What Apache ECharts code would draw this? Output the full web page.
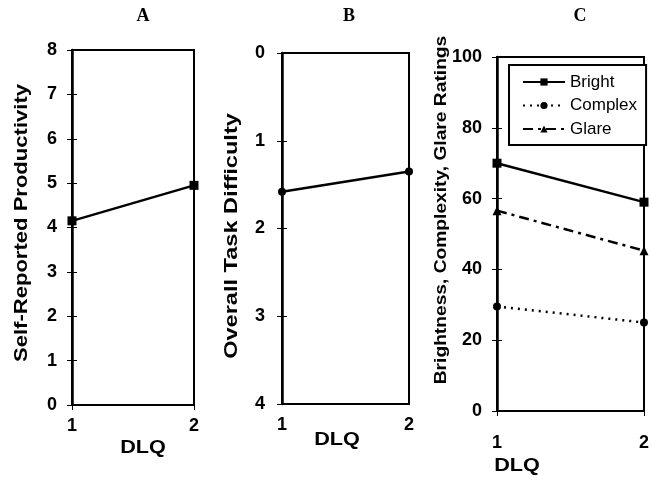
<!DOCTYPE html>
<html>
<head>
<meta charset="utf-8">
<script src="https://cdn.jsdelivr.net/npm/echarts@6/dist/echarts.min.js"></script>
<style>
  html, body { margin: 0; padding: 0; background: #fff; }
  #chart { width: 652px; height: 483px; }
</style>
</head>
<body>
<div id="chart"></div>
<script>
// DLQ levels shared by all three panels
const dlq = [1, 2];

// Panel A: self-reported productivity
const productivity = [4.15, 4.95];
const productivityTicks = { min: 0, max: 8, interval: 1 };

// Panel B: overall task difficulty (axis runs downward)
const difficulty = [1.58, 1.35];
const difficultyTicks = { min: 0, max: 4, interval: 1 };

// Panel C: ratings
const ratingNames = ['Bright', 'Complex', 'Glare'];
const bright = [70, 59];
const complexity = [29.5, 25];
const glare = [56.6, 45.3];
const ratingTicks = { min: 0, max: 100, interval: 20 };

const pairs = vals => dlq.map((d, i) => [d, vals[i]]);

const SANS = 'Liberation Sans, Arial, sans-serif';
const SERIF = 'Liberation Serif, Times New Roman, serif';

const grids = [
  { left: 72, top: 50, width: 122, height: 355 },
  { left: 282, top: 53, width: 127, height: 351 },
  { left: 497, top: 57, width: 153, height: 354 }
];

function xAxisFor(gi, labelMargin) {
  return {
    type: 'value', gridIndex: gi, min: 1, max: 2, interval: 1,
    axisLine: { show: true, lineStyle: { color: '#000', width: 2 } },
    axisTick: { show: true, inside: false, length: 5, lineStyle: { color: '#000', width: 1 } },
    axisLabel: { margin: labelMargin, fontFamily: SANS, fontWeight: 'bold', fontSize: 18, color: '#000' },
    splitLine: { show: false }
  };
}

function yAxisFor(gi, ticks, inverse, labelMargin) {
  return {
    type: 'value', gridIndex: gi, min: ticks.min, max: ticks.max, interval: ticks.interval,
    inverse: inverse,
    axisLine: { show: true, onZero: false, lineStyle: { color: '#000', width: 2.5 } },
    axisTick: { show: true, inside: false, length: 5, lineStyle: { color: '#000', width: 1 } },
    axisLabel: { margin: labelMargin, fontFamily: SANS, fontWeight: 'bold', fontSize: 18, color: '#000' },
    splitLine: { show: false }
  };
}

// second copy of each y axis draws the inner half of the crossing tick marks
function innerTicksFor(gi, ticks, inverse) {
  return {
    type: 'value', gridIndex: gi, min: ticks.min, max: ticks.max, interval: ticks.interval,
    inverse: inverse, position: 'left',
    axisLine: { show: false },
    axisTick: { show: true, inside: true, length: 5, lineStyle: { color: '#000', width: 1 } },
    axisLabel: { show: false },
    splitLine: { show: false }
  };
}

function boldText(str, x, y, size, stretch, vertical) {
  return {
    type: 'text', x: x, y: y,
    rotation: vertical ? Math.PI / 2 : 0,
    scaleX: stretch,
    style: {
      text: str, fontFamily: SANS, fontWeight: 'bold', fontSize: size,
      fill: '#000', align: 'center', verticalAlign: 'middle'
    }
  };
}

function panelTitle(str, x, y) {
  return {
    type: 'text', x: x, y: y,
    style: {
      text: str, fontFamily: SERIF, fontWeight: 'bold', fontSize: 18,
      fill: '#000', align: 'center', verticalAlign: 'middle'
    }
  };
}

const chart = echarts.init(document.getElementById('chart'), null, { renderer: 'canvas' });

chart.setOption({
  animation: false,
  backgroundColor: '#fff',
  grid: grids.map(g => Object.assign({ show: true, borderColor: '#000', borderWidth: 2, backgroundColor: 'transparent' }, g)),
  xAxis: [xAxisFor(0, 12), xAxisFor(1, 12), xAxisFor(2, 23)],
  yAxis: [
    yAxisFor(0, productivityTicks, false, 15),
    yAxisFor(1, difficultyTicks, true, 17),
    yAxisFor(2, ratingTicks, false, 15),
    innerTicksFor(0, productivityTicks, false),
    innerTicksFor(1, difficultyTicks, true),
    innerTicksFor(2, ratingTicks, false)
  ],
  legend: {
    data: ratingNames,
    orient: 'vertical',
    left: 509, top: 65,
    padding: [7, 9, 6, 13],
    itemWidth: 42, itemHeight: 9, itemGap: 3.5,
    borderColor: '#000', borderWidth: 2,
    backgroundColor: '#fff',
    textStyle: { fontFamily: SANS, fontSize: 17, color: '#000', lineHeight: 20 }
  },
  series: [
    {
      type: 'line', xAxisIndex: 0, yAxisIndex: 0, data: pairs(productivity),
      symbol: 'rect', symbolSize: 9, color: '#000',
      lineStyle: { color: '#000', width: 2.5 }, itemStyle: { color: '#000' }
    },
    {
      type: 'line', xAxisIndex: 1, yAxisIndex: 1, data: pairs(difficulty),
      symbol: 'circle', symbolSize: 8, color: '#000',
      lineStyle: { color: '#000', width: 2.5 }, itemStyle: { color: '#000' }
    },
    {
      name: 'Bright', type: 'line', xAxisIndex: 2, yAxisIndex: 2, data: pairs(bright),
      symbol: 'rect', symbolSize: 9, color: '#000',
      lineStyle: { color: '#000', width: 2.5, type: 'solid' }, itemStyle: { color: '#000' }
    },
    {
      name: 'Complex', type: 'line', xAxisIndex: 2, yAxisIndex: 2, data: pairs(complexity),
      symbol: 'circle', symbolSize: 8, color: '#000',
      lineStyle: { color: '#000', width: 2.5, type: [2, 5] }, itemStyle: { color: '#000' }
    },
    {
      name: 'Glare', type: 'line', xAxisIndex: 2, yAxisIndex: 2, data: pairs(glare),
      symbol: 'triangle', symbolSize: 9, color: '#000',
      lineStyle: { color: '#000', width: 2.5, type: [10, 5, 3, 5] }, itemStyle: { color: '#000' }
    }
  ],
  graphic: [
    panelTitle('A', 143, 16),
    panelTitle('B', 349, 16),
    panelTitle('C', 580, 16),
    boldText('Self-Reported Productivity', 22, 223, 19, 1.16, true),
    boldText('Overall Task Difficulty', 232, 236, 19, 1.24, true),
    boldText('Brightness, Complexity, Glare Ratings', 442, 210, 16, 1.2, true),
    boldText('DLQ', 143, 448, 19, 1.14, false),
    boldText('DLQ', 337, 440, 19, 1.14, false),
    boldText('DLQ', 517, 466, 19, 1.14, false)
  ]
});
</script>
</body>
</html>
